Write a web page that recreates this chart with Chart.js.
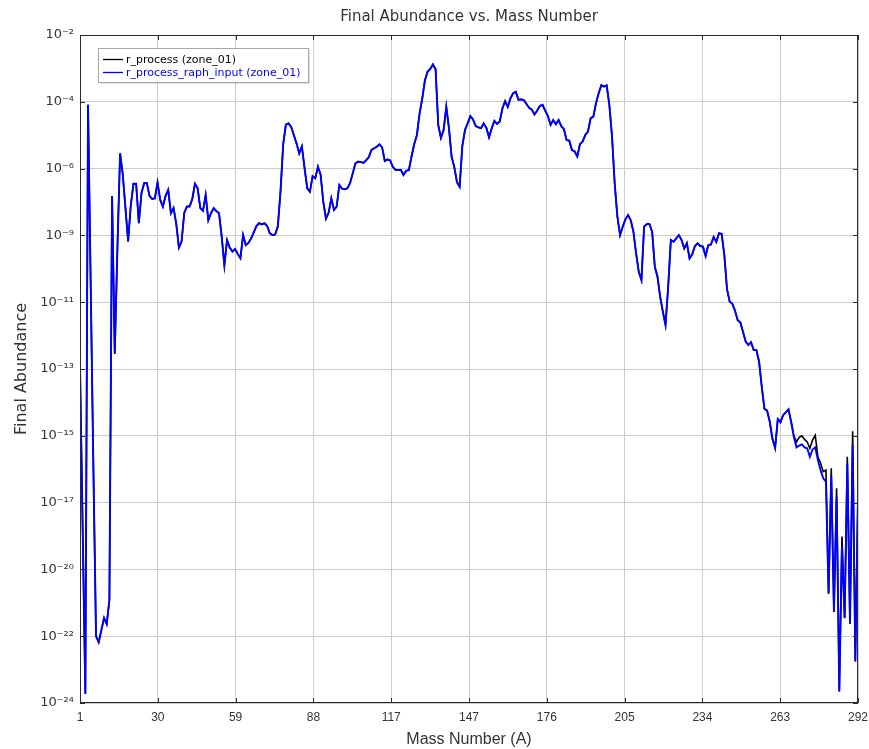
<!DOCTYPE html>
<html>
<head>
<meta charset="utf-8">
<title>Final Abundance vs. Mass Number</title>
<script src="https://cdn.jsdelivr.net/npm/chart.js@4.4.1/dist/chart.umd.min.js"></script>
<style>
  html, body { margin: 0; padding: 0; background: #ffffff; }
  #wrap { width: 869px; height: 749px; }
</style>
</head>
<body>
<div id="wrap"><canvas id="chart" width="869" height="749"></canvas></div>
<script>
// Mass number range covered by the network output
const A_FIRST = 1;
const A_LAST = 292;

// log10 of final abundance, A = 1 .. 267 (both runs agree here)
const sharedLog10 = [
  -12.9, -18.3, -23.7, -4.3, -10.2, -16.2, -21.8, -22.0, -21.6, -21.2,
  -21.4, -20.6, -7.3, -12.5, -9.0, -5.9, -6.6, -7.7, -8.8, -7.6,
  -6.9, -6.9, -8.2, -7.2, -6.88, -6.88, -7.3, -7.4, -7.38, -6.86,
  -7.43, -7.65, -7.3, -7.1, -7.87, -7.7, -8.22, -9.0, -8.8, -7.85,
  -7.65, -7.65, -7.4, -6.9, -7.05, -7.7, -7.79, -7.27, -8.1, -7.87,
  -7.7, -7.8, -7.87, -8.64, -9.58, -8.76, -9.0, -9.13, -9.05, -9.21,
  -9.35, -8.59, -8.92, -8.85, -8.7, -8.5, -8.29, -8.2, -8.24, -8.2,
  -8.29, -8.53, -8.59, -8.57, -8.3, -7.15, -5.6, -4.95, -4.91, -5.03,
  -5.3, -5.57, -5.9, -5.67, -6.39, -7.05, -7.16, -6.65, -6.72, -6.34,
  -6.6, -7.5, -8.05, -7.85, -7.38, -7.76, -7.65, -6.94, -7.06, -7.08,
  -7.05, -6.88, -6.56, -6.23, -6.17, -6.18, -6.21, -6.13, -6.03, -5.79,
  -5.73, -5.68, -5.6, -5.7, -6.15, -6.1, -6.13, -6.34, -6.44, -6.45,
  -6.44, -6.61, -6.47, -6.45, -6.0, -5.6, -5.3, -4.6, -4.1, -3.5,
  -3.21, -3.12, -2.97, -3.13, -4.96, -5.39, -5.13, -4.36, -5.07, -6.01,
  -6.35, -6.85, -7.0, -5.66, -5.13, -4.91, -4.67, -4.78, -5.0, -5.04,
  -5.07, -4.91, -5.06, -5.37, -5.07, -4.83, -4.93, -4.85, -4.42, -4.18,
  -4.37, -4.09, -3.92, -3.87, -4.13, -4.12, -4.14, -4.27, -4.4, -4.46,
  -4.62, -4.49, -4.34, -4.3, -4.49, -4.66, -4.96, -4.8, -4.94, -4.8,
  -5.0, -5.1, -5.46, -5.48, -5.79, -5.83, -6.0, -5.6, -5.51, -5.29,
  -5.18, -4.74, -4.69, -4.25, -3.92, -3.65, -3.7, -3.66, -4.31, -5.35,
  -6.9, -7.98, -8.59, -8.31, -8.07, -7.93, -8.1, -8.48, -9.19, -9.8,
  -10.07, -8.31, -8.23, -8.23, -8.48, -9.63, -9.96, -10.62, -11.11, -11.55,
  -10.29, -8.75, -8.81, -8.7, -8.59, -8.75, -9.03, -8.86, -9.36, -9.22,
  -8.95, -8.86, -8.95, -8.97, -9.28, -8.92, -8.9, -8.65, -8.82, -8.53,
  -8.55, -9.24, -10.37, -10.78, -10.85, -11.08, -11.39, -11.47, -11.78, -12.1,
  -12.21, -12.12, -12.38, -12.38, -12.76, -13.58, -14.31, -14.37, -14.74, -15.3,
  -15.6, -14.65, -14.75, -14.52, -14.43, -14.33, -14.74
];

// log10 of final abundance, A = 268 .. 292, where the two runs differ
const rProcessTailLog10 = [
  -15.2, -15.4, -15.25, -15.2, -15.32, -15.4, -15.61, -15.34, -15.18, -15.89,
  -16.1, -16.38, -16.33, -20.4, -16.27, -21.0, -16.93, -23.6, -18.52, -21.2,
  -15.89, -21.4, -15.05, -22.6, -17.0
];
const raphInputTailLog10 = [
  -15.23, -15.58, -15.52, -15.48, -15.58, -15.61, -15.89, -15.65, -15.58, -16.0,
  -16.33, -16.6, -16.71, -20.39, -16.55, -20.99, -17.21, -23.63, -18.85, -21.21,
  -16.11, -21.38, -15.5, -22.64, -17.26
];

// Axis ticks: ten equal steps across each axis
const xTickValues = [1, 30.1, 59.2, 88.3, 117.4, 146.5, 175.6, 204.7, 233.8, 262.9, 292];
const xTickLabels = ['1', '30', '59', '88', '117', '147', '176', '205', '234', '263', '292'];
const yTickExponents = [-2, -4.2, -6.4, -8.6, -10.8, -13, -15.2, -17.4, -19.6, -21.8, -24];
const yTickLabels = ['10\u207B\u00B2', '10\u207B\u2074', '10\u207B\u2076', '10\u207B\u2079', '10\u207B\u00B9\u00B9',
  '10\u207B\u00B9\u00B3', '10\u207B\u00B9\u2075', '10\u207B\u00B9\u2077', '10\u207B\u00B2\u2070', '10\u207B\u00B2\u00B2',
  '10\u207B\u00B2\u2074'];

const seriesLabels = ['r_process (zone_01)', 'r_process_raph_input (zone_01)'];
const seriesColors = ['#000000', '#0000ff'];

function toPoints(log10Values) {
  return log10Values.map((v, i) => ({ x: A_FIRST + i, y: Math.pow(10, v) }));
}
const rProcess = toPoints(sharedLog10.concat(rProcessTailLog10));
const raphInput = toPoints(sharedLog10.concat(raphInputTailLog10));

const TEXT = '#333333';
const GRID = '#cccccc';

// Box around the plot with short inward ticks on all four sides
const framePlugin = {
  id: 'frame',
  afterDatasetsDraw(chart) {
    const { ctx, chartArea: a, scales } = chart;
    const xs = scales.x, ys = scales.y;
    ctx.save();
    ctx.strokeStyle = '#2a2a2a';
    ctx.lineWidth = 1;
    ctx.beginPath();
    xs.ticks.forEach(t => {
      const px = Math.round(xs.getPixelForValue(t.value)) + 0.5;
      ctx.moveTo(px, a.bottom); ctx.lineTo(px, a.bottom - 5);
      ctx.moveTo(px, a.top); ctx.lineTo(px, a.top + 5);
    });
    ys.ticks.forEach(t => {
      const py = Math.round(ys.getPixelForValue(t.value)) + 0.5;
      ctx.moveTo(a.left, py); ctx.lineTo(a.left + 5, py);
      ctx.moveTo(a.right, py); ctx.lineTo(a.right - 5, py);
    });
    ctx.stroke();
    ctx.strokeRect(Math.round(a.left) + 0.5, Math.round(a.top) + 0.5,
                   Math.round(a.width) - 1, Math.round(a.height) - 1);
    ctx.restore();
  }
};

// Legend box placed in the upper-left corner of the plot
const insetLegendPlugin = {
  id: 'insetLegend',
  afterDraw(chart) {
    const { ctx, chartArea: a } = chart;
    const sets = chart.data.datasets;
    ctx.save();
    ctx.font = '11px "DejaVu Sans", sans-serif';
    let maxW = 0;
    sets.forEach(d => { maxW = Math.max(maxW, ctx.measureText(d.label).width); });
    const left = a.left + 18, top = a.top + 13;
    const w = Math.round(28 + maxW + 7), h = 34;
    ctx.fillStyle = 'rgba(0,0,0,0.12)';
    ctx.fillRect(left + 2, top + 2, w, h);
    ctx.fillStyle = '#ffffff';
    ctx.fillRect(left, top, w, h);
    ctx.strokeStyle = '#a8a8a8';
    ctx.lineWidth = 1;
    ctx.strokeRect(left + 0.5, top + 0.5, w, h);
    ctx.textBaseline = 'middle';
    ctx.textAlign = 'left';
    sets.forEach((d, i) => {
      const cy = top + 11 + i * 13;
      ctx.strokeStyle = d.borderColor;
      ctx.lineWidth = 1.3;
      ctx.beginPath();
      ctx.moveTo(left + 5, cy + 0.5);
      ctx.lineTo(left + 25, cy + 0.5);
      ctx.stroke();
      ctx.fillStyle = d.borderColor;
      ctx.fillText(d.label, left + 28, cy + 1);
    });
    ctx.restore();
  }
};

new Chart(document.getElementById('chart'), {
  type: 'line',
  data: {
    datasets: [
      {
        label: seriesLabels[0],
        data: rProcess,
        borderColor: seriesColors[0],
        backgroundColor: seriesColors[0],
        borderWidth: 1.6,
        pointRadius: 0,
        tension: 0,
        fill: false,
        order: 1
      },
      {
        label: seriesLabels[1],
        data: raphInput,
        borderColor: seriesColors[1],
        backgroundColor: seriesColors[1],
        borderWidth: 1.9,
        pointRadius: 0,
        tension: 0,
        fill: false,
        order: 0
      }
    ]
  },
  options: {
    responsive: false,
    animation: false,
    devicePixelRatio: 1,
    parsing: false,
    layout: { padding: { left: 0, right: 11, top: 0, bottom: 0 } },
    plugins: {
      legend: { display: false },
      tooltip: { enabled: false },
      title: {
        display: true,
        fullSize: false,
        text: 'Final Abundance vs. Mass Number',
        color: TEXT,
        font: { family: '"DejaVu Sans", sans-serif', size: 15, weight: 'normal' },
        padding: { top: 8, bottom: 9 }
      }
    },
    scales: {
      x: {
        type: 'linear',
        min: A_FIRST,
        max: A_LAST,
        bounds: 'data',
        afterBuildTicks: s => { s.ticks = xTickValues.map(v => ({ value: v })); },
        afterFit: s => { s.height = 46; s.paddingLeft = 0; s.paddingRight = 0; },
        ticks: {
          callback: (v, i) => xTickLabels[i],
          autoSkip: false,
          maxRotation: 0,
          padding: 7,
          color: TEXT,
          font: { family: '"Liberation Sans", sans-serif', size: 12 }
        },
        grid: { color: GRID, lineWidth: 1, drawTicks: false },
        border: { display: false },
        title: {
          display: true,
          text: 'Mass Number (A)',
          color: TEXT,
          font: { family: '"Liberation Sans", sans-serif', size: 16 },
          padding: { top: 0, bottom: 0 }
        }
      },
      y: {
        type: 'logarithmic',
        min: Math.pow(10, -24),
        max: Math.pow(10, -2),
        bounds: 'data',
        afterBuildTicks: s => { s.ticks = yTickExponents.map(e => ({ value: Math.pow(10, e) })); },
        afterFit: s => { s.width = 80; },
        ticks: {
          callback: (v, i) => yTickLabels[i],
          autoSkip: false,
          padding: 6,
          color: TEXT,
          font: { family: '"DejaVu Sans", sans-serif', size: 13 }
        },
        grid: { color: GRID, lineWidth: 1, drawTicks: false },
        border: { display: false },
        title: {
          display: true,
          text: 'Final Abundance',
          color: TEXT,
          font: { family: '"DejaVu Sans", sans-serif', size: 16 },
          padding: { top: 12, bottom: 0 }
        }
      }
    }
  },
  plugins: [framePlugin, insetLegendPlugin]
});
</script>
</body>
</html>
